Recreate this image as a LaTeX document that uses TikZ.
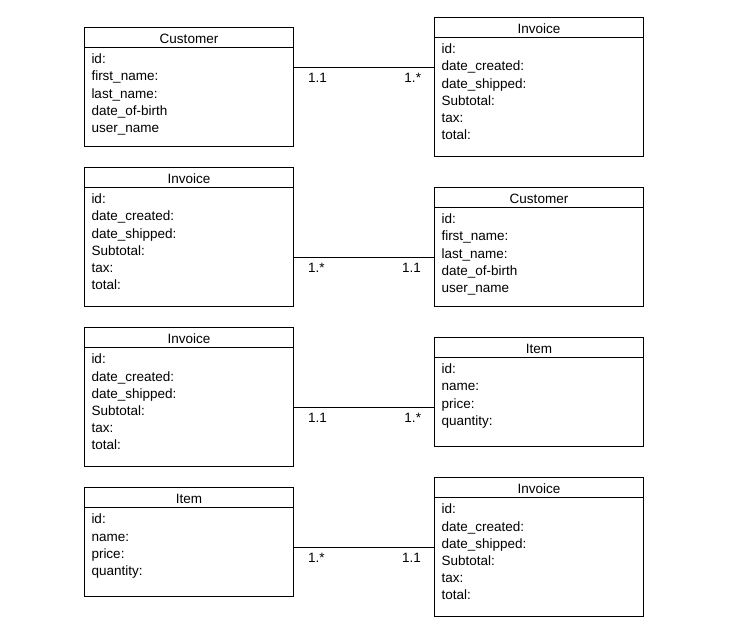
\documentclass[tikz,border=0pt]{standalone}
\usepackage{fontspec}
\setmainfont{Liberation Sans}
\usetikzlibrary{positioning}
\newcommand{\classfields}[2]{\parbox[t][#1][t]{195pt}{\rule{0pt}{16.3pt}#2}}

\begin{document}
\begin{tikzpicture}[x=1pt, y=-1pt, line width=1pt,
  font=\fontsize{13.5}{17.2}\selectfont,
  classtitle/.style={draw, minimum width=209pt, minimum height=20pt, inner sep=0pt, outer sep=0pt, text height=12.5pt, text depth=0pt, anchor=north west},
  classbody/.style={draw, minimum width=209pt, inner xsep=7pt, inner ysep=0pt, outer sep=0pt, below=0pt of #1},
  multleft/.style={inner sep=0pt, pos=0, anchor=base west, xshift=14pt, yshift=-15pt},
  multright/.style={inner sep=0pt, pos=1, anchor=base east, xshift=-13pt, yshift=-15pt}]
\useasboundingbox (0,0) rectangle (742,628);

\node[classtitle] (cust1t) at (84.5,27.5) {Customer};
\node[classbody=cust1t] (cust1b) {\classfields{99pt}{id:\\first\_name:\\last\_name:\\date\_of-birth\\user\_name}};
\node[classtitle] (inv1t) at (434.5,17.5) {Invoice};
\node[classbody=inv1t] (inv1b) {\classfields{119pt}{id:\\date\_created:\\date\_shipped:\\Subtotal:\\tax:\\total:}};
\draw ([yshift=-20pt]cust1b.north east) -- ([yshift=-30pt]inv1b.north west)
  node[multleft] (m1a) {1.1} node[multright] (m1b) {1.*};

\node[classtitle] (inv2t) at (84.5,167.5) {Invoice};
\node[classbody=inv2t] (inv2b) {\classfields{119pt}{id:\\date\_created:\\date\_shipped:\\Subtotal:\\tax:\\total:}};
\node[classtitle] (cust2t) at (434.5,187.5) {Customer};
\node[classbody=cust2t] (cust2b) {\classfields{99pt}{id:\\first\_name:\\last\_name:\\date\_of-birth\\user\_name}};
\draw ([yshift=-70pt]inv2b.north east) -- ([yshift=-50pt]cust2b.north west)
  node[multleft] (m2a) {1.*} node[multright] (m2b) {1.1};

\node[classtitle] (inv3t) at (84.5,327.5) {Invoice};
\node[classbody=inv3t] (inv3b) {\classfields{119pt}{id:\\date\_created:\\date\_shipped:\\Subtotal:\\tax:\\total:}};
\node[classtitle] (item3t) at (434.5,337.5) {Item};
\node[classbody=item3t] (item3b) {\classfields{89pt}{id:\\name:\\price:\\quantity:}};
\draw ([yshift=-60pt]inv3b.north east) -- ([yshift=-50pt]item3b.north west)
  node[multleft] (m3a) {1.1} node[multright] (m3b) {1.*};

\node[classtitle] (item4t) at (84.5,487.5) {Item};
\node[classbody=item4t] (item4b) {\classfields{89pt}{id:\\name:\\price:\\quantity:}};
\node[classtitle] (inv4t) at (434.5,477.5) {Invoice};
\node[classbody=inv4t] (inv4b) {\classfields{119pt}{id:\\date\_created:\\date\_shipped:\\Subtotal:\\tax:\\total:}};
\draw ([yshift=-40pt]item4b.north east) -- ([yshift=-50pt]inv4b.north west)
  node[multleft] (m4a) {1.*} node[multright] (m4b) {1.1};
\end{tikzpicture}
\end{document}
